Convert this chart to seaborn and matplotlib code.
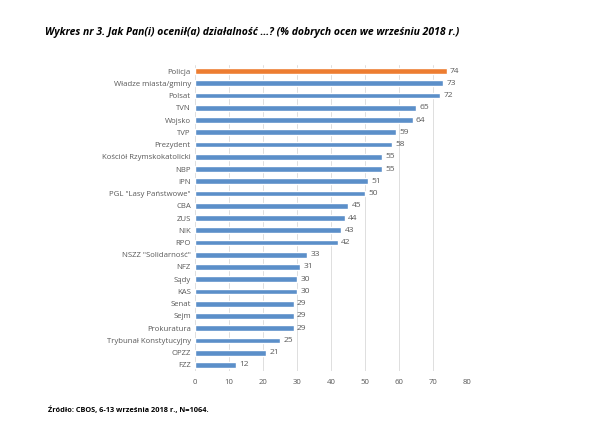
import matplotlib
matplotlib.use('Agg')
import matplotlib.pyplot as plt
import seaborn as sns
import pandas as pd

# Data
institutions = [
    'Policja', 'Władze miasta/gminy', 'Polsat', 'TVN', 'Wojsko', 'TVP',
    'Prezydent', 'Kościół Rzymskokatolicki', 'NBP', 'IPN',
    'PGL "Lasy Państwowe"', 'CBA', 'ZUS', 'NIK', 'RPO',
    'NSZZ "Solidarność"', 'NFZ', 'Sądy', 'KAS', 'Senat', 'Sejm',
    'Prokuratura', 'Trybunał Konstytucyjny', 'OPZZ', 'FZZ',
]
good_ratings = [74, 73, 72, 65, 64, 59, 58, 55, 55, 51, 50, 45, 44, 43, 42,
                33, 31, 30, 30, 29, 29, 29, 25, 21, 12]
x_ticks = [0, 10, 20, 30, 40, 50, 60, 70, 80]

title = 'Wykres nr 3. Jak Pan(i) ocenił(a) działalność …? (% dobrych ocen we wrześniu 2018 r.)'
source = 'Źródło: CBOS, 6-13 września 2018 r., N=1064.'

df = pd.DataFrame({'instytucja': institutions, 'ocena': good_ratings})

sns.set_theme(style='white')
plt.rcParams['font.family'] = ['Open Sans', 'DejaVu Sans']

fig = plt.figure(figsize=(5.93, 4.33), dpi=100)
ax = fig.add_axes([195 / 593, 1 - 371.1 / 433, 272 / 593, 306.2 / 433])

palette = ['#ED7D31'] + ['#5B8FC9'] * (len(institutions) - 1)
sns.barplot(data=df, y='instytucja', x='ocena', hue='instytucja',
            palette=palette, legend=False, width=0.48, ax=ax, saturation=1)

for i, v in enumerate(good_ratings):
    ax.text(v + 1, i, str(v), va='center', ha='left', fontsize=6, color='#595959')

ax.set_xlim(0, 80)
ax.set_xticks(x_ticks)
ax.set_xlabel('')
ax.set_ylabel('')
ax.tick_params(axis='both', labelsize=5.6, colors='#595959', length=0, pad=3)
ax.tick_params(axis='x', pad=6)
ax.grid(axis='x', color='#D9D9D9', linewidth=0.6)
ax.set_axisbelow(True)
for s in ax.spines.values():
    s.set_visible(False)

fig.text(45 / 593, 1 - 33 / 433, title, fontsize=7.5, fontweight='bold',
         fontstyle='italic', va='center', ha='left', color='black')
fig.text(48 / 593, 1 - 410 / 433, source, fontsize=5.3, fontweight='bold',
         va='center', ha='left', color='black')

fig.savefig('out.png', dpi=100)
